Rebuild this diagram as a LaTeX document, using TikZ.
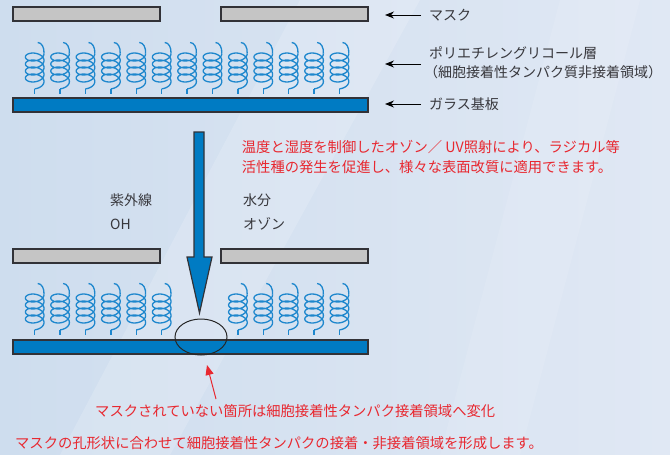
\documentclass[tikz,border=0pt]{standalone}
\usepackage{fontspec}
\setmainfont{Noto Sans CJK JP}
\usetikzlibrary{arrows.meta,shapes.geometric}
\definecolor{bgA}{RGB}{206,221,238}
\definecolor{bgB}{RGB}{224,232,244}
\definecolor{maskgray}{RGB}{197,197,197}
\definecolor{edge}{RGB}{50,50,55}
\definecolor{glassblue}{RGB}{0,123,195}
\definecolor{coilblue}{RGB}{30,135,205}
\definecolor{txtgray}{RGB}{55,55,60}
\definecolor{txtred}{RGB}{232,40,48}
\begin{document}
\begin{tikzpicture}[x=1pt,y=-1pt,
  maskbar/.style={fill=maskgray,draw=edge,line width=1.2pt},
  glassbar/.style={fill=glassblue,draw=edge,line width=1.2pt},
  coilline/.style={draw=coilblue,line width=1.3pt},
  lbl/.style={font=\fontsize{14}{19}\selectfont,text=txtgray,inner sep=0pt,anchor=west,align=left},
  lblwide/.style={lbl,font=\fontsize{14}{24}\selectfont},
  note/.style={font=\fontsize{14.3}{20}\selectfont,text=txtred,inner sep=0pt,anchor=west,align=left},
  lblarrow/.style={draw=black,line width=1pt,-{Stealth[length=9pt,width=7pt]}},
  redarrow/.style={draw=txtred,line width=1pt,-{Triangle[length=10pt,width=8pt]}},
  spotring/.style={draw=black!85,line width=1pt,shape=ellipse,inner sep=0pt,minimum width=52pt,minimum height=36pt},
  coil/.pic={
    \draw[coilline] plot[domain=0:1530,samples=240,smooth,variable=\t]
      ({9.3*cos(\t)},{7*\t/360+5.6*sin(\t)});
    \draw[coilline] (9.3,0) .. controls (9.7,-6) and (7,-11) .. (3,-11);
    \draw[coilline] (0,35.35) -- (0,40.5);
  }]
\useasboundingbox (0,0) rectangle (670,455);

% background
\fill[left color=bgA,right color=bgB] (0,0) rectangle (670,455);
\fill[white,opacity=0.16] (300,0) -- (420,0) -- (170,455) -- (60,455) -- cycle;
\fill[white,opacity=0.10] (560,0) -- (640,0) -- (520,455) -- (440,455) -- cycle;

% --- upper stack: mask, PEG layer, glass ---
\draw[maskbar] (13,7) rectangle (160,21);
\draw[maskbar] (221,7) rectangle (368,21);
\foreach \i in {0,...,12}
  \pic at ({34.7+25.4*\i},53.5) {coil};
\draw[glassbar] (13,98) rectangle (368,112);

% labels on the right
\node[lbl] (tmask) at (429,15) {マスク};
\node[lbl] (tpeg) at (429,62.5) {ポリエチレングリコール層\\\hspace*{-5pt}（細胞接着性タンパク質非接着領域）};
\node[lbl] (tglass) at (429,104) {ガラス基板};
\draw[lblarrow] ([xshift=-8pt]tmask.west) -- ++(-36,0);
\draw[lblarrow] ([xshift=-8pt,yshift=-1.5pt]tpeg.west) -- ++(-36,0);
\draw[lblarrow] ([xshift=-8pt]tglass.west) -- ++(-36,0);

% treatment arrow
\draw[glassbar] (194,132) -- (204,132) -- (204,257) -- (212,257) -- (199.5,313)
  -- (187,257) -- (194,257) -- cycle;

\node[note] (tproc) at (241.7,156.7)
  {温度と湿度を制御したオゾン／ UV照射により、ラジカル等\\活性種の発生を促進し、様々な表面改質に適用できます。};
\node[lblwide] (tuv) at (110,212) {紫外線\\OH};
\node[lblwide] (twater) at (243,212) {水分\\オゾン};

% --- lower stack after exposure ---
\draw[maskbar] (13,249) rectangle (160,263);
\draw[maskbar] (221,249) rectangle (368,263);
\foreach \i in {0,...,5,8,9,10,11,12}
  \pic at ({34.7+25.4*\i},294.5) {coil};
\draw[glassbar] (13,340) rectangle (368,354);
\node[spotring] (spot) at (201,337) {};

% notes below
\node[note] (tchange) at (95,411) {マスクされていない箇所は細胞接着性タンパク接着領域へ変化};
\node[note] (tform) at (15,443) {マスクの孔形状に合わせて細胞接着性タンパクの接着・非接着領域を形成します。};
\coordinate (rtail) at (216,399);
\coordinate (rtip) at (207,365);
\draw[redarrow] (rtail) -- (rtip);
\end{tikzpicture}
\end{document}
